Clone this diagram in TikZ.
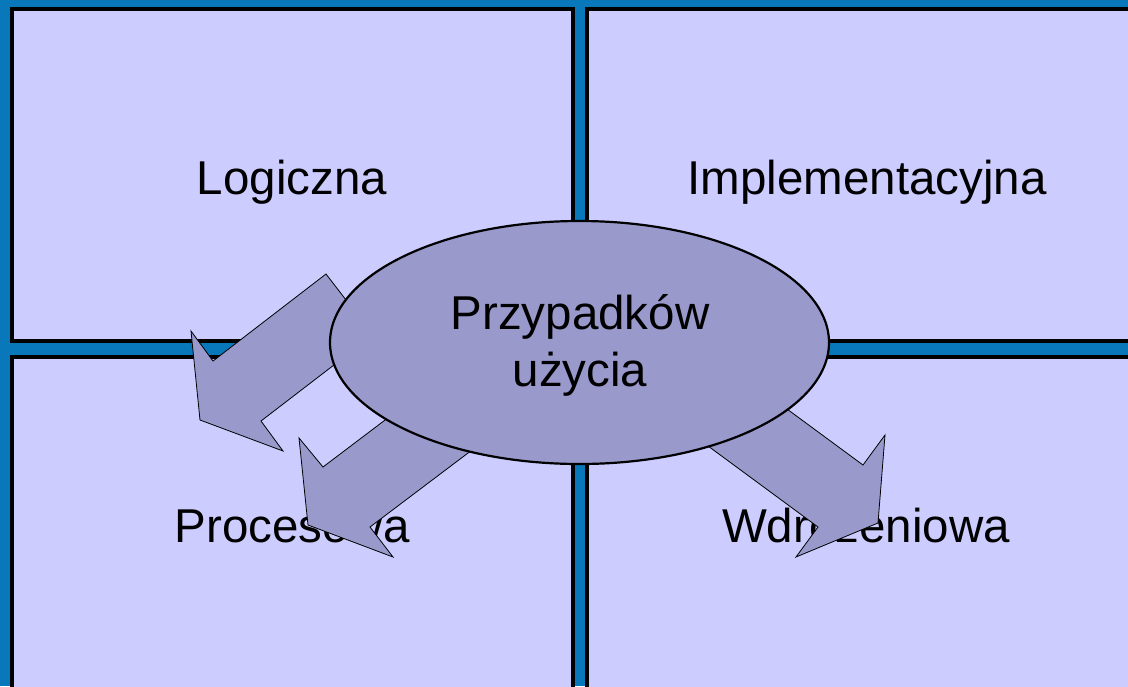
\documentclass[tikz,border=0pt]{standalone}
\usepackage{fontspec}
\setmainfont{Liberation Sans}
\usetikzlibrary{shapes.geometric}
\definecolor{bgblue}{RGB}{8,120,186}
\definecolor{panel}{HTML}{CCCCFF}
\definecolor{lav}{HTML}{9999CC}
\begin{document}
\begin{tikzpicture}[x=1pt,y=-1pt,
  panelbox/.style={draw=black,fill=panel,line width=4pt},
  blockarrow/.style={draw=black,fill=lav,line width=0.8pt,line join=miter},
  lbl/.style={anchor=base,inner sep=0pt,font=\fontsize{47.5}{57}\selectfont}]
\useasboundingbox (0,0) rectangle (1128,686);
\clip (0,0) rectangle (1128,686);
\fill[bgblue] (0,0) rectangle (1128,686);
% panels
\draw[panelbox] (12,9) rectangle (572.5,341);
\draw[panelbox] (587,9) rectangle (1150,341);
\draw[panelbox] (12,357) rectangle (572.5,700);
\draw[panelbox] (587,357) rectangle (1150,700);
% labels
\node[lbl] (logiczna) at (292,194) {Logiczna};
\node[lbl] (impl) at (867,194) {Implementacyjna};
\node[lbl] (proc) at (292,542) {Procesowa};
\node[lbl] (wdr) at (866,542) {Wdrożeniowa};
% block arrows
\draw[blockarrow] (326,274) -- (213,361) -- (191,331) -- (200,420) -- (283,451) -- (261,421) -- (373,335) -- cycle;
\draw[blockarrow] (430,386) -- (323,467) -- (299,438) -- (308,525) -- (393,557) -- (370,527) -- (476,447) -- cycle;
\draw[blockarrow] (734,370) -- (863,465) -- (885,435) -- (878,523) -- (796,557) -- (818,527) -- (689,432) -- cycle;
% ellipse
\node[ellipse,draw=black,fill=lav,line width=2.2pt,minimum width=499pt,minimum height=243pt,inner sep=0pt] (uc) at (579.5,342.5) {};
\node[lbl] (uc1) at (580,329) {Przypadków};
\node[lbl] (uc2) at (580,386) {użycia};
\end{tikzpicture}
\end{document}
